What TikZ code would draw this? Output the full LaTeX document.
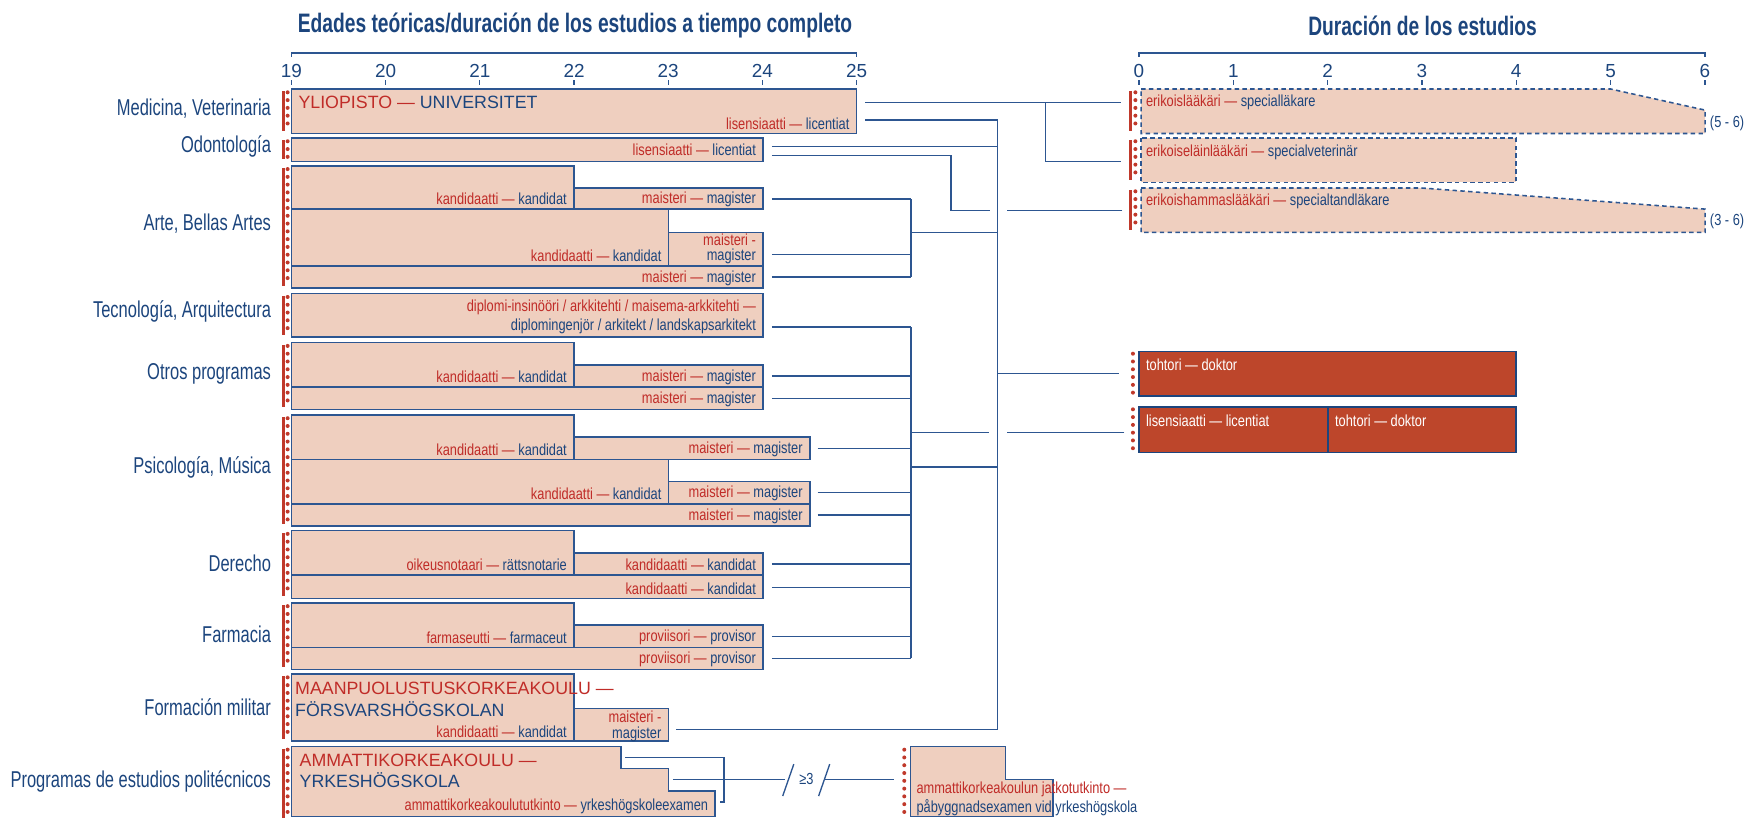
\documentclass[tikz,border=0pt]{standalone}
\usepackage{fontspec}
\setmainfont{Liberation Sans}
\newfontfamily\condfont[FakeStretch=0.8]{Liberation Sans}
\newfontfamily\narrowfont[FakeStretch=0.72]{Liberation Sans}
\definecolor{navy}{RGB}{28,69,125}
\definecolor{lineblue}{RGB}{45,86,145}
\definecolor{txtred}{RGB}{192,44,40}
\definecolor{boxfill}{RGB}{239,207,191}
\definecolor{docfill}{RGB}{189,70,43}
\definecolor{barred}{RGB}{192,57,43}
\newcommand\lblfont{\condfont\fontsize{7.2}{8.8}\selectfont}
\newcommand\catfont{\narrowfont\fontsize{10.3}{12}\selectfont}
\newcommand\capsfont{\fontsize{8}{9.7}\selectfont}
\newcommand\ttlfont{\narrowfont\bfseries\fontsize{12}{14}\selectfont}
\newcommand\numfont{\fontsize{8.5}{10}\selectfont}
\newcommand\fitxt[1]{\textcolor{txtred}{#1}}
\newcommand\svtxt[1]{\textcolor{navy}{#1}}
\tikzset{
  box/.style={draw=lineblue, fill=boxfill, line width=0.7pt},
  specbox/.style={box, dash pattern=on 2pt off 1.5pt},
  docbox/.style={draw=navy, fill=docfill, line width=0.7pt},
  lnk/.style={draw=lineblue, line width=0.6pt},
  redbar/.style={draw=barred, line width=1.4pt},
  reddots/.style={draw=barred, line width=1.8pt, line cap=round, dash pattern=on 0pt off 3.5pt},
  cat/.style={font=\catfont, text=navy, anchor=east, inner sep=0pt},
  lbl/.style={font=\lblfont, anchor=east, inner sep=0pt, align=right},
  lbll/.style={font=\lblfont, anchor=west, inner sep=0pt, align=left},
  caps/.style={font=\capsfont, anchor=west, inner sep=0pt, align=left},
  num/.style={font=\numfont, text=navy, inner sep=0pt},
  ttl/.style={font=\ttlfont, text=navy, inner sep=0pt},
  doctxt/.style={font=\lblfont, text=white, anchor=west, inner sep=0pt},
}
\begin{document}
\begin{tikzpicture}[x=0.5pt,y=-0.5pt]
\useasboundingbox (0,0) rectangle (1568,735);

\node[ttl] (ttl-age) at (517,23) {Edades teóricas/duración de los estudios a tiempo completo};
\node[ttl] (ttl-dur) at (1279,23) {Duración de los estudios};

\draw[lnk] (262,51) |- (770,47.5) -- (770,51);
\draw[lnk] (1024,51) |- (1533,47.5) -- (1533,51);
\foreach \a [count=\idx from 0] in {19,...,25} {
  \node[num] (age\a) at ({262+\idx*84.7},64) {\a};
  \draw[lnk] ({262+\idx*84.7},72) -- ++(0,4);
}
\foreach \a in {0,...,6} {
  \node[num] (dur\a) at ({1024+\a*84.8},64) {\a};
  \draw[lnk] ({1024+\a*84.8},72) -- ++(0,4);
}

\node[cat] (c-med) at (244,98) {Medicina, Veterinaria};
\node[cat] (c-odo) at (244,132) {Odontología};
\node[cat] (c-art) at (244,201) {Arte, Bellas Artes};
\node[cat] (c-tec) at (244,280) {Tecnología, Arquitectura};
\node[cat] (c-otr) at (244,336) {Otros programas};
\node[cat] (c-psi) at (244,420) {Psicología, Música};
\node[cat] (c-der) at (244,506) {Derecho};
\node[cat] (c-far) at (244,570) {Farmacia};
\node[cat] (c-mil) at (244,636) {Formación militar};
\node[cat] (c-amk) at (244,703) {Programas de estudios politécnicos};

\foreach \ya/\yb in {82/118,126/143,151/257,266/301,310/366,375/471,479/536,544/600,608/664,673/735} {
  \draw[redbar] (254.5,\ya) -- (254.5,\yb);
  \draw[reddots] (258.6,\ya+1) -- (258.6,\yb);
}
\foreach \ya/\yb in {82/118,126/162,171/207} {
  \draw[redbar] (1016.5,\ya) -- (1016.5,\yb);
  \draw[reddots] (1020.8,\ya+1) -- (1020.8,\yb);
}
\foreach \ya/\yb in {318/354,368/404} \draw[reddots] (1018.6,\ya) -- (1018.6,\yb);
\draw[reddots] (813,674) -- (813,735);

\draw[box] (262,80) rectangle (770,120);
\draw[box] (262,124) rectangle (686,145);
\draw[box] (262,149) rectangle (516,188);
\draw[box] (516,169) rectangle (686,188);
\draw[box] (262,188) rectangle (601,239);
\draw[box] (601,209) rectangle (686,239);
\draw[box] (262,239) rectangle (686,259);
\draw[box] (262,264) rectangle (686,303);
\draw[box] (262,308) rectangle (516,348);
\draw[box] (516,328) rectangle (686,348);
\draw[box] (262,348) rectangle (686,368);
\draw[box] (262,373) rectangle (516,413);
\draw[box] (516,393) rectangle (728,413);
\draw[box] (262,413) rectangle (601,453);
\draw[box] (601,433) rectangle (728,453);
\draw[box] (262,453) rectangle (728,473);
\draw[box] (262,477) rectangle (516,517);
\draw[box] (516,497) rectangle (686,517);
\draw[box] (262,517) rectangle (686,538);
\draw[box] (262,542) rectangle (516,582);
\draw[box] (516,562) rectangle (686,582);
\draw[box] (262,582) rectangle (686,602);
\draw[box] (262,606) rectangle (516,666);
\draw[box] (516,637) rectangle (601,666);
\draw[box] (262,671) -- (558.5,671) -- (558.5,691) -- (601,691) -- (601,711) -- (643,711) -- (643,734) -- (262,734) -- cycle;
\draw[box] (818.6,671) -- (904,671) -- (904,701) -- (946.6,701) -- (946.6,734) -- (818.6,734) -- cycle;

\draw[specbox] (1026,80) -- (1448,80) -- (1533,99) -- (1533,120) -- (1026,120) -- cycle;
\draw[specbox] (1026,124) rectangle (1363,164);
\draw[specbox] (1026,169) -- (1278,169) -- (1533,188) -- (1533,209) -- (1026,209) -- cycle;
\draw[docbox] (1024,316) rectangle (1363,356);
\draw[docbox] (1024,366) rectangle (1194,407);
\draw[docbox] (1194,366) rectangle (1363,407);

\node[caps] (n-yo) at (268,92.3) {\fitxt{YLIOPISTO —} \svtxt{UNIVERSITET}};
\node[lbl] (med-l) at (764,111) {\fitxt{lisensiaatti —} \svtxt{licentiat}};
\node[lbl] (odo-l) at (680,135) {\fitxt{lisensiaatti —} \svtxt{licentiat}};
\node[lbl] (art-k1) at (510,179) {\fitxt{kandidaatti —} \svtxt{kandidat}};
\node[lbl] (art-m1) at (680,179) {\fitxt{maisteri —} \svtxt{magister}};
\node[lbl] (art-k2) at (595,230) {\fitxt{kandidaatti —} \svtxt{kandidat}};
\node[lbl] (art-m2) at (680,224) {\fitxt{maisteri -}\\[-2pt]\svtxt{magister}};
\node[lbl] (art-m3) at (680,250) {\fitxt{maisteri —} \svtxt{magister}};
\node[lbl] (tec-l) at (680,285) {\fitxt{diplomi-insinööri / arkkitehti / maisema-arkkitehti —}\\\svtxt{diplomingenjör / arkitekt / landskapsarkitekt}};
\node[lbl] (otr-k) at (510,339) {\fitxt{kandidaatti —} \svtxt{kandidat}};
\node[lbl] (otr-m1) at (680,339) {\fitxt{maisteri —} \svtxt{magister}};
\node[lbl] (otr-m2) at (680,359) {\fitxt{maisteri —} \svtxt{magister}};
\node[lbl] (psi-k1) at (510,404) {\fitxt{kandidaatti —} \svtxt{kandidat}};
\node[lbl] (psi-m1) at (722,404) {\fitxt{maisteri —} \svtxt{magister}};
\node[lbl] (psi-k2) at (595,444) {\fitxt{kandidaatti —} \svtxt{kandidat}};
\node[lbl] (psi-m2) at (722,444) {\fitxt{maisteri —} \svtxt{magister}};
\node[lbl] (psi-m3) at (722,464) {\fitxt{maisteri —} \svtxt{magister}};
\node[lbl] (der-o) at (510,508) {\fitxt{oikeusnotaari —} \svtxt{rättsnotarie}};
\node[lbl] (der-k1) at (680,508) {\fitxt{kandidaatti —} \svtxt{kandidat}};
\node[lbl] (der-k2) at (680,529) {\fitxt{kandidaatti —} \svtxt{kandidat}};
\node[lbl] (far-f) at (510,573) {\fitxt{farmaseutti —} \svtxt{farmaceut}};
\node[lbl] (far-p1) at (680,573) {\fitxt{proviisori —} \svtxt{provisor}};
\node[lbl] (far-p2) at (680,593) {\fitxt{proviisori —} \svtxt{provisor}};
\node[caps] (n-mil) at (265,628.7) {\fitxt{MAANPUOLUSTUSKORKEAKOULU —}\\\svtxt{FÖRSVARSHÖGSKOLAN}};
\node[lbl] (mil-k) at (510,658) {\fitxt{kandidaatti —} \svtxt{kandidat}};
\node[lbl] (mil-m) at (595,653) {\fitxt{maisteri -}\\[-2pt]\svtxt{magister}};
\node[caps] (n-amk) at (269,693) {\fitxt{AMMATTIKORKEAKOULU —}\\\svtxt{YRKESHÖGSKOLA}};
\node[lbl] (amk-l) at (637,725.3) {\fitxt{ammattikorkeakoulututkinto —} \svtxt{yrkeshögskoleexamen}};
\node[lbll] (jat-l) at (823.6,718) {\fitxt{ammattikorkeakoulun jatkotutkinto —}\\[-0.3pt]\svtxt{påbyggnadsexamen vid yrkeshögskola}};

\node[lbll] (sp-l1) at (1030,92) {\fitxt{erikoislääkäri —} \svtxt{specialläkare}};
\node[lbll] (sp-l2) at (1030,137) {\fitxt{erikoiseläinlääkäri —} \svtxt{specialveterinär}};
\node[lbll] (sp-l3) at (1030,181) {\fitxt{erikoishammaslääkäri —} \svtxt{specialtandläkare}};
\node[lbll, text=navy] (sp-r1) at (1537,111) {(5 - 6)};
\node[lbll, text=navy] (sp-r3) at (1537,199) {(3 - 6)};
\node[doctxt] (dr-l1) at (1030,328) {tohtori — doktor};
\node[doctxt] (dr-l2) at (1030,378) {lisensiaatti — licentiat};
\node[doctxt] (dr-l3) at (1200,378) {tohtori — doktor};

\coordinate (med-a) at (778,92);
\coordinate (med-b) at (778,108);
\coordinate (odo-a) at (694,132);
\coordinate (odo-b) at (694,140);
\coordinate (art-a) at (694,179);
\coordinate (art-b) at (694,229);
\coordinate (art-c) at (694,249);
\coordinate (tec-a) at (694,294);
\coordinate (otr-a) at (694,338);
\coordinate (otr-b) at (694,358);
\coordinate (psi-a) at (735,403);
\coordinate (psi-b) at (735,443);
\coordinate (psi-c) at (735,463);
\coordinate (der-a) at (694,507);
\coordinate (der-b) at (694,528);
\coordinate (far-a) at (694,572);
\coordinate (far-b) at (694,592);
\coordinate (mil-a) at (608,656);
\coordinate (amk-a) at (562,681);
\coordinate (amk-b) at (605,701);
\coordinate (midx) at (819,0);
\coordinate (trunk) at (897,656);
\coordinate (vet-j) at (940,92);
\coordinate (odo-j) at (855,189);
\coordinate (art-j) at (819,209);
\coordinate (grp-j) at (819,420);
\coordinate (gap-j) at (819,389);
\coordinate (sp-med) at (1008,92);
\coordinate (sp-vet) at (1008,145);
\coordinate (sp-odo) at (1009,189);
\coordinate (dr-a) at (1006,336);
\coordinate (dr-b) at (1011,389);
\coordinate (jat-a) at (804,701);

\draw[lnk] (med-a) -- (sp-med);
\draw[lnk] (vet-j) |- (sp-vet);
\draw[lnk] (med-b) -| (trunk) -- (mil-a);
\draw[lnk] (odo-a) -- (odo-a -| trunk);
\draw[lnk] (odo-b) -| (odo-j) -- ++(35,0);
\draw[lnk] (sp-odo) -- ++(-104,0);
\foreach \c in {art-a,art-b,art-c,tec-a,otr-a,otr-b,psi-a,psi-b,psi-c,der-a,der-b,far-a,far-b}
  \draw[lnk] (\c) -- (\c -| midx);
\draw[lnk] (art-a -| midx) -- (art-c -| midx);
\draw[lnk] (tec-a -| midx) -- (far-b -| midx);
\draw[lnk] (art-j) -- (art-j -| trunk);
\draw[lnk] (grp-j) -- (grp-j -| trunk);
\draw[lnk] (gap-j) -- ++(70,0);
\draw[lnk] (dr-b) -- ++(-106,0);
\draw[lnk] (dr-a) -- (dr-a -| trunk);
\draw[lnk] (amk-a) -- (651,681) |- (647,721);
\draw[lnk] (amk-b) -- (706,701);
\draw[lnk] (741,701) -- (jat-a);
\draw[lnk] (703.7,715.7) -- (713.7,687);
\draw[lnk] (736,715.7) -- (746,687);
\node[font=\lblfont, text=navy, inner sep=0pt] (geq) at (725,700) {≥3};
\end{tikzpicture}
\end{document}
